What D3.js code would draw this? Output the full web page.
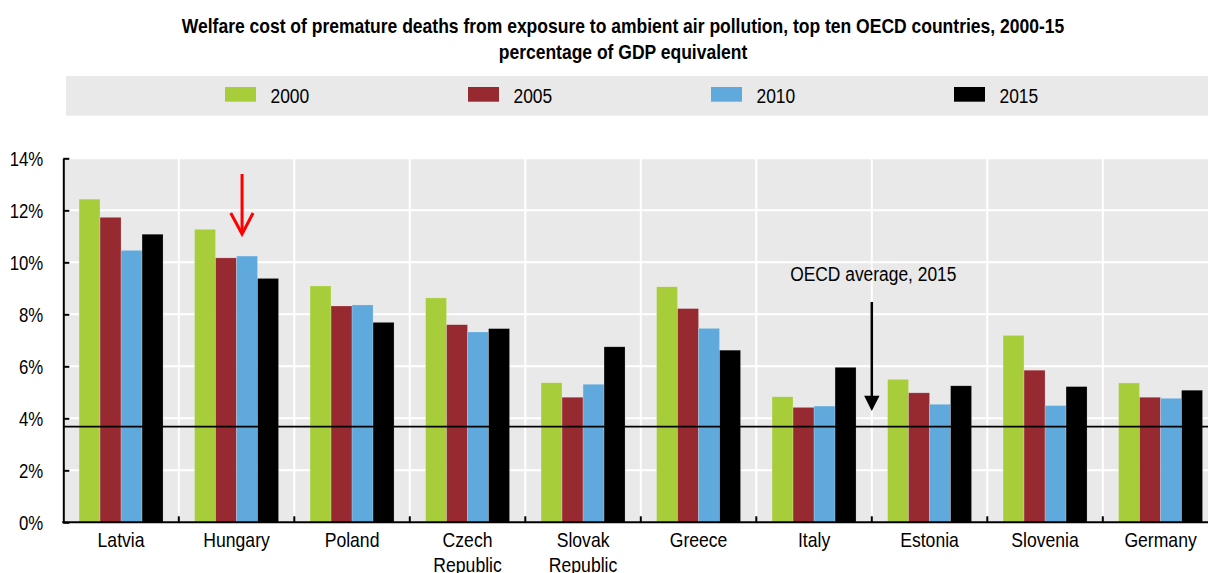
<!DOCTYPE html>
<html>
<head>
<meta charset="utf-8">
<script src="https://cdn.jsdelivr.net/npm/d3@7"></script>
<style>
  html, body { margin: 0; padding: 0; background: #fff; }
  svg { display: block; }
  text { font-family: "Liberation Sans", Arial, sans-serif; fill: #000; }
</style>
</head>
<body>
<svg id="chart" width="1208" height="573"></svg>
<script>
// Welfare cost of premature deaths from ambient air pollution, % of GDP equivalent
const countries = ["Latvia", "Hungary", "Poland", "Czech Republic", "Slovak Republic",
                   "Greece", "Italy", "Estonia", "Slovenia", "Germany"];
const years = ["2000", "2005", "2010", "2015"];
const values2000 = [12.43, 11.27, 9.09, 8.63, 5.37, 9.06, 4.83, 5.50, 7.19, 5.36];
const values2005 = [11.73, 10.17, 8.32, 7.60, 4.81, 8.22, 4.42, 4.98, 5.85, 4.81];
const values2010 = [10.46, 10.24, 8.36, 7.32, 5.31, 7.46, 4.47, 4.54, 4.49, 4.77];
const values2015 = [11.08, 9.38, 7.69, 7.45, 6.75, 6.62, 5.96, 5.25, 5.22, 5.08];
const oecdAverage2015 = 3.68;
const yTicks = [0, 2, 4, 6, 8, 10, 12, 14];
const titleLines = [
  "Welfare cost of premature deaths from exposure to ambient air pollution, top ten OECD countries, 2000-15",
  "percentage of GDP equivalent"
];
const colors = ["#a8cd3b", "#962a30", "#5fa9dd", "#000000"];

const seriesValues = [values2000, values2005, values2010, values2015];
const rows = countries.map((c, i) => ({
  country: c,
  vals: years.map((y, k) => ({ year: y, value: seriesValues[k][i] }))
}));

// Narrow-style type: squeeze text horizontally about its anchor x
function condense(sel, f) {
  sel.each(function() {
    const t = d3.select(this);
    const ax = +t.attr("x") || 0;
    t.attr("transform", `translate(${ax},0) scale(${f},1) translate(${-ax},0)`);
  });
}

const svg = d3.select("#chart");
const plot = { left: 63.3, right: 1218.3, top: 158.3, bottom: 522.3 };

const x = d3.scaleBand().domain(countries).range([plot.left, plot.right])
  .paddingInner(0.2727).paddingOuter(0.13635);
const xInner = d3.scaleBand().domain(years).range([0, x.bandwidth()]).padding(0);
const y = d3.scaleLinear().domain([0, 14]).range([plot.bottom, plot.top]);

// Title
svg.append("g").selectAll("text").data(titleLines).join("text")
  .attr("x", 623).attr("y", (d, i) => 33 + i * 26.5)
  .attr("text-anchor", "middle")
  .style("font-weight", "bold").style("font-size", "19.5px")
  .text(d => d)
  .call(condense, 0.898);

// Legend band
svg.append("rect").attr("x", 66).attr("y", 76).attr("width", 1208 - 66).attr("height", 39.7)
  .attr("fill", "#e9e9e9");
const legend = svg.append("g").selectAll("g").data(years).join("g")
  .attr("transform", (d, i) => `translate(${225 + i * 243},0)`);
legend.append("rect").attr("x", 0).attr("y", 87).attr("width", 31).attr("height", 14.7)
  .attr("fill", (d, i) => colors[i]);
legend.append("text").attr("x", 45.5).attr("y", 102.7)
  .style("font-size", "20.5px").text(d => d)
  .call(condense, 0.85);

// Plot background
svg.append("rect").attr("x", plot.left).attr("y", plot.top)
  .attr("width", plot.right - plot.left).attr("height", plot.bottom - plot.top)
  .attr("fill", "#e9e9e9");

// Horizontal gridlines
svg.append("g").selectAll("line").data(yTicks.filter(t => t > 0)).join("line")
  .attr("x1", plot.left).attr("x2", plot.right)
  .attr("y1", d => y(d)).attr("y2", d => y(d))
  .attr("stroke", "#fff").attr("stroke-width", 2);

// Vertical gridlines at category boundaries
const boundaries = countries.slice(1).map(c => x(c) - x.step() * x.paddingInner() / 2);
svg.append("g").selectAll("line").data(boundaries).join("line")
  .attr("x1", d => d).attr("x2", d => d)
  .attr("y1", plot.top).attr("y2", plot.bottom)
  .attr("stroke", "#fff").attr("stroke-width", 2);

// Bars
const groups = svg.append("g").selectAll("g").data(rows).join("g")
  .attr("transform", d => `translate(${x(d.country)},0)`);
groups.selectAll("rect").data(d => d.vals).join("rect")
  .attr("x", d => xInner(d.year))
  .attr("width", xInner.bandwidth())
  .attr("y", d => y(d.value))
  .attr("height", d => y(0) - y(d.value))
  .attr("fill", (d, i) => colors[i])
  .attr("stroke", "#ffffff").attr("stroke-opacity", 0.35).attr("stroke-width", 0.6);

// OECD average line
svg.append("line")
  .attr("x1", plot.left).attr("x2", plot.right)
  .attr("y1", y(oecdAverage2015)).attr("y2", y(oecdAverage2015))
  .attr("stroke", "#000").attr("stroke-width", 1.6);

// Y axis
const yAxis = d3.axisLeft(y).tickValues(yTicks).tickFormat(d => d + "%")
  .tickSizeInner(-6).tickSizeOuter(0).tickPadding(20);
const gy = svg.append("g").attr("transform", `translate(${plot.left},0)`).call(yAxis);
gy.select(".domain").attr("stroke", "#000").attr("stroke-width", 2);
gy.selectAll(".tick line").attr("stroke", "#000").attr("stroke-width", 2);
gy.selectAll(".tick text").style("font-size", "20px")
  .style("font-family", '"Liberation Sans", Arial, sans-serif')
  .attr("dy", "0.36em")
  .call(condense, 0.84);

// X axis line with boundary ticks
svg.append("line").attr("x1", plot.left - 1).attr("x2", plot.right)
  .attr("y1", plot.bottom).attr("y2", plot.bottom)
  .attr("stroke", "#000").attr("stroke-width", 2);
svg.append("g").selectAll("line").data(boundaries).join("line")
  .attr("x1", d => d).attr("x2", d => d)
  .attr("y1", plot.bottom).attr("y2", plot.bottom - 6)
  .attr("stroke", "#000").attr("stroke-width", 2);

// Category labels
const xAxis = d3.axisBottom(x).tickSize(0).tickPadding(0);
const gx = svg.append("g").attr("transform", `translate(0,${plot.bottom})`).call(xAxis);
gx.select(".domain").remove();
gx.selectAll(".tick text").each(function(d) {
  const t = d3.select(this);
  const words = d.split(" ");
  t.text(null).attr("x", 0).attr("y", 0).attr("dy", null)
    .style("font-size", "20px")
    .style("font-family", '"Liberation Sans", Arial, sans-serif');
  words.forEach((w, i) => {
    t.append("tspan").attr("x", 0).attr("y", 24.5 + i * 25.5).text(w);
  });
}).call(condense, 0.88);

// Annotation: OECD average
const annX = boundaries[6];
svg.append("text").attr("x", annX + 1.5).attr("y", 281)
  .attr("text-anchor", "middle").style("font-size", "20px")
  .text("OECD average, 2015")
  .call(condense, 0.87);
svg.append("line").attr("x1", annX).attr("x2", annX)
  .attr("y1", 302).attr("y2", 397)
  .attr("stroke", "#000").attr("stroke-width", 2.5);
svg.append("path")
  .attr("d", `M${annX - 7.7},395.7 L${annX + 7.7},395.7 L${annX},411 Z`)
  .attr("fill", "#000");

// Red arrow over Hungary
const redX = x("Hungary") + xInner("2010") + 5.5;
svg.append("line").attr("x1", redX).attr("x2", redX)
  .attr("y1", 174).attr("y2", 233)
  .attr("stroke", "#ff0000").attr("stroke-width", 3);
svg.append("path")
  .attr("d", `M${redX - 11.3},213 L${redX},234 L${redX + 11},213`)
  .attr("fill", "none").attr("stroke", "#ff0000").attr("stroke-width", 3)
  .attr("stroke-linejoin", "miter");
</script>
</body>
</html>
